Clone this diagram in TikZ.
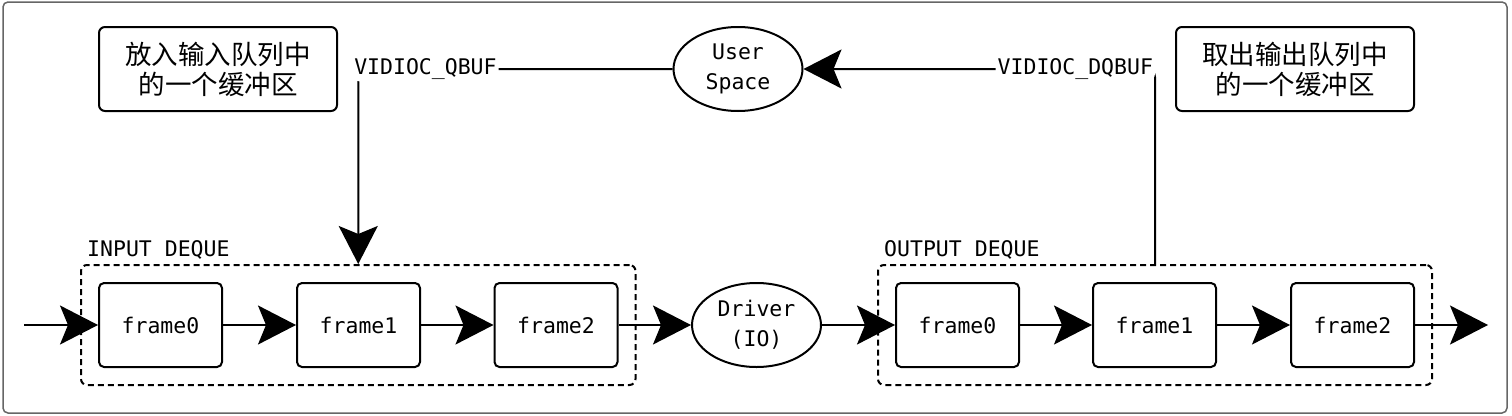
\documentclass[tikz,border=0pt]{standalone}
\usepackage{fontspec}
\setmonofont{DejaVu Sans Mono}
\newfontfamily\cjkfont{Noto Sans CJK SC}
\usetikzlibrary{arrows.meta,positioning,shapes.geometric,fit}

\tikzset{
  flow/.style={-{Stealth[length=38pt,width=39pt,inset=8pt]}, line width=2pt},
  framebox/.style={draw, rounded corners=5pt, line width=2pt, minimum width=123pt,
    minimum height=84pt, font=\ttfamily\fontsize{21.5}{30}\selectfont},
  oval/.style={draw, ellipse, line width=2pt, minimum width=129pt, minimum height=84pt,
    inner sep=0pt, align=center, font=\ttfamily\fontsize{21.5}{30}\selectfont},
  note/.style={draw, rounded corners=6pt, line width=2pt, minimum width=238pt,
    minimum height=84pt, align=center, font=\cjkfont\fontsize{26.5}{30}\selectfont},
  deque/.style={draw, dash pattern=on 6pt off 4pt, rounded corners=6pt, line width=2pt,
    inner sep=17pt},
  tag/.style={fill=white, inner sep=2pt, font=\ttfamily\fontsize{21.5}{30}\selectfont},
}

\begin{document}
\begin{tikzpicture}[x=1pt,y=-1pt]
  \useasboundingbox (0,0) rectangle (1512,415);
  \draw[line width=1.5pt, gray!80!black, rounded corners=5pt] (3,2) rectangle (1507,413);

  % notes and user space
  \node[note] (putnote) at (218,69) {放入输入队列中\\的一个缓冲区};
  \node[note] (getnote) at (1295,69) {取出输出队列中\\的一个缓冲区};
  \node[oval] (user) at (738,69) {User\\Space};

  % frames
  \foreach \i/\x in {0/160.5,1/358.5,2/556}{
    \node[framebox] (in\i) at (\x,325) {frame\i};
  }
  \foreach \i/\x in {0/957.5,1/1154.5,2/1352.5}{
    \node[framebox] (out\i) at (\x,325) {frame\i};
  }
  \node[oval] (drv) at (756.5,325) {Driver\\(IO)};

  \node[deque, fit=(in0)(in2)] (indeque) {};
  \node[deque, fit=(out0)(out2)] (outdeque) {};
  \node[tag, fill=none, anchor=south west] at ([xshift=5pt,yshift=2pt]indeque.north west) {INPUT DEQUE};
  \node[tag, fill=none, anchor=south west] at ([xshift=5pt,yshift=2pt]outdeque.north west) {OUTPUT DEQUE};

  \coordinate (src) at (24,325);
  \coordinate (sink) at (1488,325);

  % data path
  \draw[flow] (src) -- (in0);
  \foreach \a/\b in {in0/in1,in1/in2,in2/drv,drv/out0,out0/out1,out1/out2,out2/sink}{
    \draw[flow] (\a) -- (\b);
  }

  % ioctl paths
  \draw[flow, rounded corners=8pt] (user.west) -| node[tag, pos=0.5, anchor=west, xshift=-7pt] {VIDIOC\_QBUF} (indeque.north);
  \draw[flow, rounded corners=8pt] (outdeque.north) |- node[tag, pos=0.5, anchor=east, xshift=1pt] {VIDIOC\_DQBUF} (user.east);
\end{tikzpicture}
\end{document}
